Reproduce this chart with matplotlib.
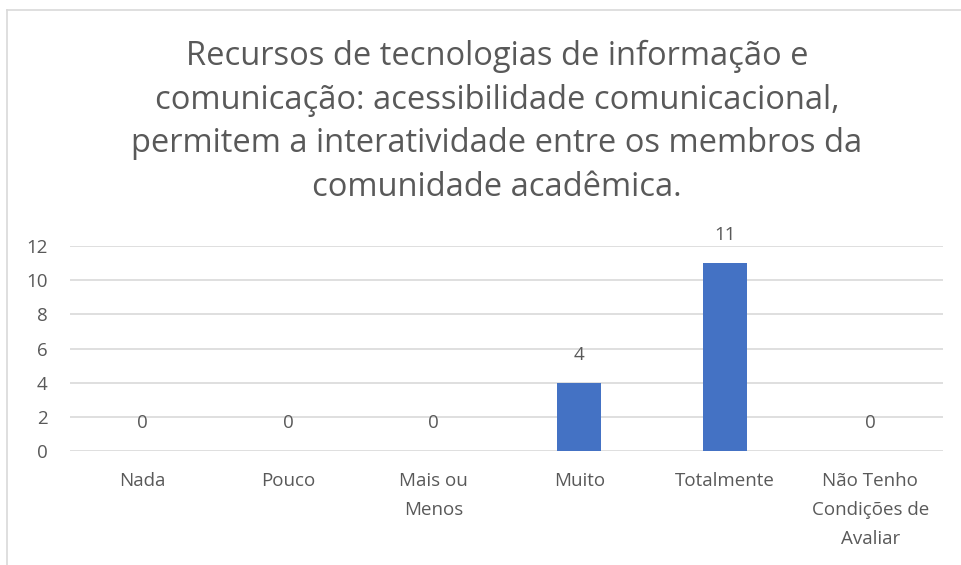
import matplotlib
matplotlib.use("Agg")
import matplotlib.pyplot as plt
from matplotlib.lines import Line2D

categories = ["Nada", "Pouco", "Mais ou\nMenos", "Muito", "Totalmente",
              "Não Tenho\nCondições de\nAvaliar"]
values = [0, 0, 0, 4, 11, 0]
yticks = [0, 2, 4, 6, 8, 10, 12]
title = ("Recursos de tecnologias de informação e\n"
         "comunicação: acessibilidade comunicacional,\n"
         "permitem a interatividade entre os membros da\n"
         "comunidade acadêmica.")

plt.rcParams["font.family"] = ["Open Sans", "DejaVu Sans"]
text_color = "#595959"
bar_color = "#4472C4"
grid_color = "#D9D9D9"

W, H = 962, 565
fig = plt.figure(figsize=(W / 100, H / 100), dpi=100)
fig.patch.set_facecolor("white")

# chart frame (top and left edges visible)
fig.add_artist(Line2D([7 / W, 1.0], [1 - 10 / H, 1 - 10 / H],
                      transform=fig.transFigure, color="#D9D9D9", lw=1.2))
fig.add_artist(Line2D([7 / W, 7 / W], [0, 1 - 10 / H],
                      transform=fig.transFigure, color="#D9D9D9", lw=1.2))

left, right = 70, 943
top, bottom = 246, 451
ax = fig.add_axes([left / W, 1 - bottom / H, (right - left) / W, (bottom - top) / H])

x = list(range(len(categories)))
bars = ax.bar(x, values, width=0.3, color=bar_color, zorder=3)

ax.set_xlim(-0.5, len(categories) - 0.5)
ax.set_ylim(0, 12)
ax.set_yticks(yticks)
ax.set_yticklabels([str(t) for t in yticks])
ax.set_xticks(x)
ax.set_xticklabels(categories, linespacing=1.8)
ax.tick_params(axis="both", length=0, labelsize=13.5, colors=text_color)
ax.tick_params(axis="x", pad=15)
ax.tick_params(axis="y", pad=16)
for lab in ax.get_yticklabels():
    lab.set_horizontalalignment("right")

ax.yaxis.grid(True, color=grid_color, lw=1.2, zorder=0)
for s in ax.spines.values():
    s.set_visible(False)

for xi, v in zip(x, values):
    ax.annotate(str(v), (xi, v), xytext=(0, 20), textcoords="offset points",
                ha="center", va="center", fontsize=13.5, color=text_color)

fig.text(497 / W, 1 - 122 / H, title, ha="center", va="center",
         fontsize=23.5, color=text_color, linespacing=1.42)

fig.savefig("out.png", dpi=100)
